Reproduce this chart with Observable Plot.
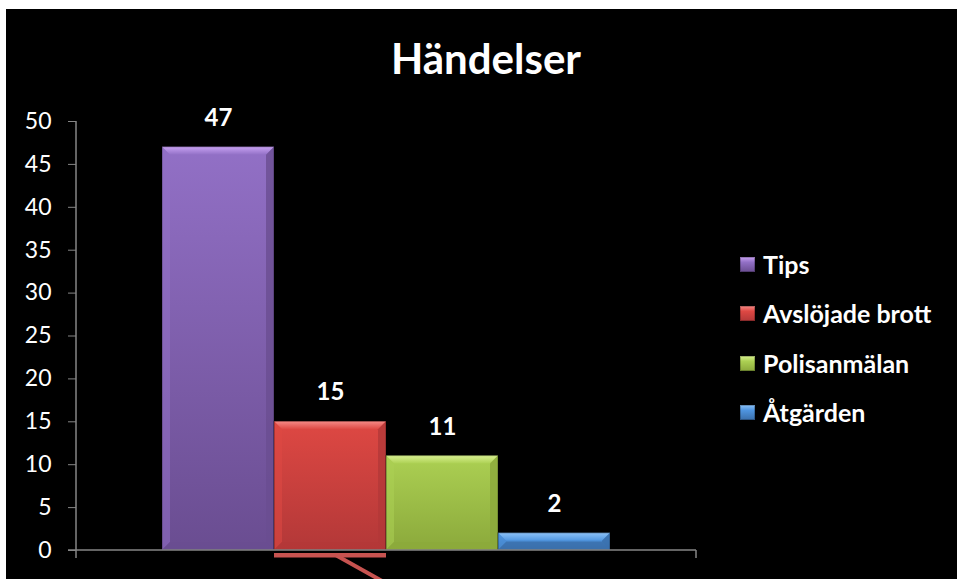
<!DOCTYPE html>
<html>
<head>
<meta charset="utf-8">
<script src="https://cdn.jsdelivr.net/npm/d3@7"></script>
<script src="https://cdn.jsdelivr.net/npm/@observablehq/plot@0.6"></script>
<style>
  html, body { margin: 0; padding: 0; background: #fff; }
  #chart { position: absolute; left: 6px; top: 9px; width: 951px; height: 570px; background: #000; overflow: hidden; font-family: Lato, "Open Sans", sans-serif; }
  #title { position: absolute; left: 480px; top: 28px; transform: translateX(-50%); color: #fff; font-weight: bold; font-size: 42px; line-height: 42px; white-space: nowrap; }
  #legend { position: absolute; left: 734px; top: 0; }
  .item { position: absolute; left: 0; display: flex; align-items: center; white-space: nowrap; color: #fff; font-weight: bold; font-size: 25px; line-height: 28px; }
  .sw { width: 15px; height: 15px; margin-right: 8px; box-sizing: border-box; }
  #plot { position: absolute; left: 0; top: 0; }
</style>
</head>
<body>
<div id="chart">
  <div id="title">Händelser</div>
  <div id="plot"></div>
  <div id="legend"></div>
</div>
<script>
// ---- data ----
const series = ["Tips", "Avslöjade brott", "Polisanmälan", "Åtgärden"];
const values = [47, 15, 11, 2];
const yTicks = [0, 5, 10, 15, 20, 25, 30, 35, 40, 45, 50];
const colorTop = ["#9270c6", "#de4843", "#acd053", "#4f95e0"];
const colorBottom = ["#6a4d91", "#b33838", "#8ba93b", "#3a6fab"];
const colorLight = ["#c8a2f2", "#f58a86", "#d8f090", "#8cc2f8"];

const data = series.map((s, i) => ({series: s, value: values[i]}));

// ---- layout ----
const W = 951, H = 570;
const mL = 70, mR = 261, mT = 112, mB = 29;

const plot = Plot.plot({
  width: W, height: H,
  marginLeft: mL, marginRight: mR, marginTop: mT, marginBottom: mB,
  style: {background: "transparent", color: "#fff", fontFamily: "Lato, 'Open Sans', sans-serif", overflow: "visible"},
  x: {domain: series, paddingInner: 0, paddingOuter: 0.7556, axis: null},
  y: {domain: [0, 50], axis: null},
  marks: [
    Plot.barY(data, {x: "series", y: "value", fill: "#888"}),
    Plot.axisY(yTicks, {tickSize: 8, tickPadding: 17, stroke: "#868686", fill: "#fff", fontSize: 23, label: null}),
    Plot.text(data, {x: "series", y: "value", text: d => String(d.value), dy: -29, fill: "#fff", fontWeight: "bold", fontSize: 24})
  ]
});
document.getElementById("plot").appendChild(plot);

// gradients + bevel styling on the bars drawn by Plot
const svg = d3.select(plot);
const defs = svg.insert("defs", ":first-child");
series.forEach((s, i) => {
  const g = defs.append("linearGradient").attr("id", "g" + i).attr("x1", 0).attr("y1", 0).attr("x2", 0).attr("y2", 1);
  g.append("stop").attr("offset", "0%").attr("stop-color", colorTop[i]);
  g.append("stop").attr("offset", "100%").attr("stop-color", colorBottom[i]);
  const gl = defs.append("linearGradient").attr("id", "gl" + i).attr("x1", 0).attr("y1", 0).attr("x2", 0).attr("y2", 1);
  gl.append("stop").attr("offset", "0%").attr("stop-color", colorLight[i]);
  gl.append("stop").attr("offset", "100%").attr("stop-color", colorTop[i]);
});
const barRects = svg.select('g[aria-label="bar"]').selectAll("rect").nodes();
const bevel = svg.append("g");
barRects.forEach((r, i) => {
  const x = +r.getAttribute("x"), y = +r.getAttribute("y"), w = +r.getAttribute("width"), h = +r.getAttribute("height");
  r.setAttribute("fill", `url(#g${i})`);
  const b = Math.min(8, h / 2);
  bevel.append("polygon").attr("points", `${x},${y} ${x + w},${y} ${x + w - b},${y + b} ${x + b},${y + b}`).attr("fill", `url(#gl${i})`);
  bevel.append("polygon").attr("points", `${x},${y} ${x + b},${y + b} ${x + b},${y + h - b} ${x},${y + h}`).attr("fill", colorTop[i]).attr("opacity", 0.55);
  bevel.append("polygon").attr("points", `${x + w},${y} ${x + w - b},${y + b} ${x + w - b},${y + h - b} ${x + w},${y + h}`).attr("fill", colorBottom[i]).attr("opacity", 0.8);
  bevel.append("polygon").attr("points", `${x},${y + h} ${x + b},${y + h - b} ${x + w - b},${y + h - b} ${x + w},${y + h}`).attr("fill", colorBottom[i]).attr("opacity", 0.7);
  bevel.append("rect").attr("x", x).attr("y", y).attr("width", w).attr("height", h).attr("fill", "none").attr("stroke", "#000").attr("stroke-opacity", 0.35).attr("stroke-width", 1);
});

// axis lines (frame edges)
const base = H - mB;
const ax = svg.append("g").attr("stroke", "#868686").attr("stroke-width", 1.5).attr("fill", "none");
ax.append("line").attr("x1", mL).attr("x2", mL).attr("y1", mT).attr("y2", base + 8);
ax.append("line").attr("x1", mL - 8).attr("x2", W - mR).attr("y1", base).attr("y2", base);
ax.append("line").attr("x1", W - mR).attr("x2", W - mR).attr("y1", base).attr("y2", base + 8);

// red annotation stroke under the second bar
const rr = barRects[1];
const rx = +rr.getAttribute("x"), rw = +rr.getAttribute("width");
svg.append("rect").attr("x", rx).attr("y", base + 3).attr("width", rw).attr("height", 4.5).attr("fill", "#c75350");
svg.append("line").attr("x1", rx + rw * 0.55).attr("y1", base + 5).attr("x2", rx + rw * 0.55 + 50).attr("y2", base + 33)
  .attr("stroke", "#c75350").attr("stroke-width", 4);

// legend
const legend = document.getElementById("legend");
const rowTops = [241, 290, 340, 389];
series.forEach((s, i) => {
  const it = document.createElement("div");
  it.className = "item";
  it.style.top = rowTops[i] + "px";
  const sw = document.createElement("span");
  sw.className = "sw";
  sw.style.background = `linear-gradient(${colorLight[i]} 0%, ${colorTop[i]} 35%, ${colorBottom[i]} 100%)`;
  sw.style.boxShadow = "inset 0 0 0 1px rgba(0,0,0,0.25)";
  it.appendChild(sw);
  const t = document.createElement("span");
  t.textContent = s;
  it.appendChild(t);
  legend.appendChild(it);
});
</script>
</body>
</html>
